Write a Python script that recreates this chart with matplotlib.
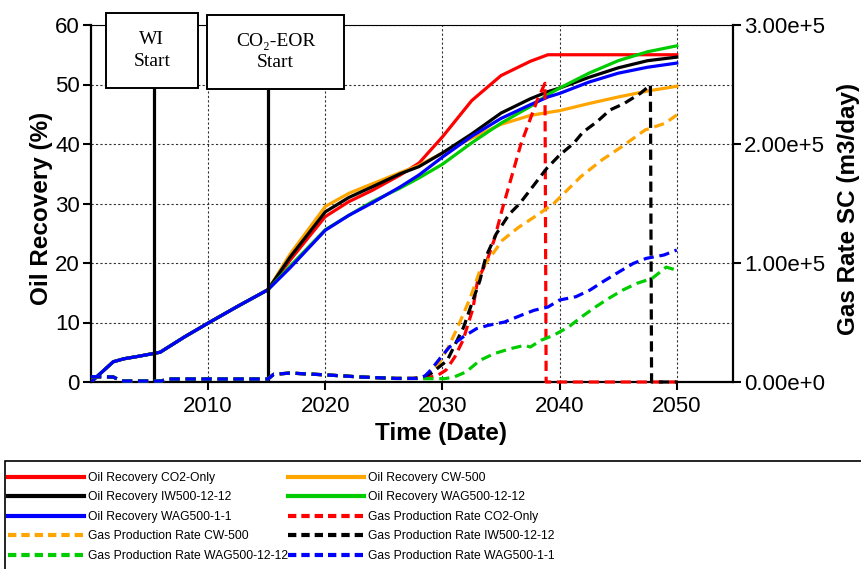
import matplotlib
matplotlib.use("Agg")
import matplotlib.pyplot as plt
import matplotlib.patches as mpatches
from matplotlib.lines import Line2D
from matplotlib.ticker import FuncFormatter

plt.rcParams["font.family"] = ["Liberation Sans", "DejaVu Sans"]

# ─── Data ────────────────────────────────────────────────────────────────────
# history (shared by every scenario, only the blue one shows)
hist_years = [2000, 2001.9, 2002.8, 2004, 2005.9, 2008, 2010, 2012.5, 2015.1]
hist_oil = [0, 3.4, 3.9, 4.3, 5.0, 7.6, 9.9, 12.7, 15.5]

# oil recovery forecasts (%)
fc_years = [2015.1, 2017, 2020, 2022, 2024, 2026.4, 2028, 2030, 2032.5, 2035,
            2037.5, 2039, 2040, 2042.5, 2045, 2047.5, 2050]
oil_co2 = [15.5, 20.5, 27.8, 30.3, 32.2, 34.8, 36.8, 41.2, 47.3, 51.5,
           53.9, 55.0, 55.0, 55.0, 55.0, 55.0, 55.0]
oil_cw = [15.5, 21.5, 29.5, 31.7, 33.3, 35.2, 36.4, 38.5, 41.0, 43.3,
          44.8, 45.3, 45.6, 46.8, 47.9, 48.9, 49.7]
oil_iw = [15.5, 21.0, 28.6, 31.0, 32.8, 35.0, 36.2, 38.5, 41.7, 45.2,
          47.6, 48.8, 49.4, 51.2, 52.8, 54.0, 54.6]
oil_wag12 = [15.5, 19.5, 25.6, 28.0, 30.3, 32.6, 34.3, 36.6, 40.2, 43.5,
             46.3, 48.3, 49.4, 51.9, 54.0, 55.5, 56.5]
oil_wag1 = [15.5, 19.2, 25.5, 28.0, 30.1, 32.8, 34.8, 37.8, 41.3, 44.3,
            46.6, 47.9, 48.5, 50.4, 51.9, 52.9, 53.6]

# gas production rate (m3/day)
gas_hist_years = [2000, 2001.9, 2002.6, 2006, 2006.5, 2015.1]
gas_hist = [4500, 4200, 800, 800, 2500, 2500]
gas_early_years = [2015.6, 2017, 2020, 2023, 2026, 2027.5]
gas_early = [6500, 7500, 6000, 4200, 3000, 3000]

gas_co2_years = [2028.5, 2029.5, 2030.3, 2031.05, 2031.75, 2032.6, 2033.0, 2033.8,
                 2034.4, 2035.1, 2036.7, 2038.1, 2038.75, 2038.85, 2050]
gas_co2 = [3500, 5000, 10000, 21000, 35000, 61600, 85400, 102000,
           119000, 145000, 200000, 237000, 251000, 0, 0]
gas_cw_years = [2028.5, 2029.7, 2030.5, 2031.3, 2032.4, 2033.2, 2034.1, 2035.1,
                2036.5, 2038.2, 2039.5, 2041.8, 2043.6, 2045.3, 2047.3, 2049, 2050]
gas_cw = [4000, 15400, 29400, 46000, 71400, 93800, 105000, 119000,
          130000, 141000, 150000, 172500, 186500, 197700, 211800, 217400, 224400]
gas_iw_years = [2028.3, 2029, 2030.4, 2031.8, 2032.6, 2033.2, 2033.7, 2034.6,
                2035.7, 2036.6, 2038.9, 2040, 2041.2, 2042, 2043.2, 2044.3,
                2045.5, 2046.9, 2047.75, 2047.85, 2050]
gas_iw = [4000, 7000, 18000, 46000, 68600, 85400, 105000, 124600,
          141000, 150000, 179500, 190700, 200600, 210000, 218800, 228600,
          234000, 242600, 249600, 0, 0]
gas_wag12_years = [2028, 2030.2, 2031, 2032, 2033.2, 2034.4, 2035.8, 2037, 2037.5,
                   2038.4, 2039.5, 2040.8, 2041.9, 2043.1, 2044.2, 2045.4,
                   2046.6, 2047.9, 2049.1, 2050]
gas_wag12 = [2800, 2800, 4200, 8400, 18200, 23800, 28000, 30800, 29400,
             35000, 39300, 46500, 54900, 63300, 70300, 77300,
             82900, 87100, 96500, 94000]
gas_wag1_years = [2027.8, 2028.5, 2029.0, 2029.8, 2030.6, 2031.75, 2032.9, 2033.9,
                  2035.3, 2036.7, 2037.8, 2039.0, 2040.0, 2041.4, 2042.6, 2043.7,
                  2045.1, 2046.3, 2047.4, 2048.9, 2050]
gas_wag1 = [3000, 5000, 10000, 20000, 29400, 37800, 44800, 47600,
            50400, 56000, 60200, 63000, 68900, 71700, 77300, 84300,
            92700, 99700, 103900, 106700, 110900]

scenarios = ["CO2-Only", "CW-500", "IW500-12-12", "WAG500-12-12", "WAG500-1-1"]
colors = ["#FF0000", "#FFA500", "#000000", "#00CC00", "#0000FF"]
oil_series = [oil_co2, oil_cw, oil_iw, oil_wag12, oil_wag1]
gas_series = [(gas_co2_years, gas_co2), (gas_cw_years, gas_cw),
              (gas_iw_years, gas_iw), (gas_wag12_years, gas_wag12),
              (gas_wag1_years, gas_wag1)]

events = [("WI\nStart", 2005.4), ("CO\u2082-EOR\nStart", 2015.1)]

# ─── Figure ──────────────────────────────────────────────────────────────────
W, H = 862, 569
fig = plt.figure(figsize=(W / 100, H / 100), dpi=100)
ax = fig.add_axes([91 / W, 1 - 382 / H, 642 / W, 357 / H])
ax2 = ax.twinx()

LW = 2.3
DASH = (0, (3.2, 1.8))

legend_items = []
for name, c, vals in zip(scenarios, colors, oil_series):
    ax.plot(hist_years[:-1] + fc_years, hist_oil[:-1] + vals,
            color=c, lw=LW, zorder=3)
    legend_items.append((Line2D([], [], color=c, lw=3.0),
                         f"Oil Recovery {name}"))

for name, c, (yrs, vals) in zip(scenarios, colors, gas_series):
    x = gas_hist_years + gas_early_years + yrs
    y = gas_hist + gas_early + vals
    ax2.plot(x, y, color=c, lw=LW, ls=DASH, zorder=3, clip_on=False)
    legend_items.append((Line2D([], [], color=c, lw=3.0, ls=(0, (2.0, 1.2))),
                         f"Gas Production Rate {name}"))

# axes limits / ticks
ax.set_xlim(2000, 2054.8)
ax.set_ylim(0, 60)
ax2.set_ylim(0, 3e5)
ax.set_xticks([2010, 2020, 2030, 2040, 2050])
ax.set_yticks(range(0, 61, 10))
ax2.set_yticks([0, 1e5, 2e5, 3e5])
ax2.yaxis.set_major_formatter(
    FuncFormatter(lambda v, p: "0.00e+0" if v == 0 else f"{v / 1e5:.2f}e+5"))

ax.set_axisbelow(True)
ax.grid(True, color="#333333", linestyle=(0, (2, 2)), linewidth=0.8)

ax.tick_params(axis="both", direction="out", length=6, width=1.5,
               labelsize=16, top=False, right=False)
ax.tick_params(axis="y", pad=2)
ax.tick_params(axis="x", pad=4)
ax2.tick_params(axis="y", direction="out", length=6, width=1.5,
                labelsize=16, pad=2)

for s in ("left", "bottom"):
    ax.spines[s].set_linewidth(1.6)
ax.spines["top"].set_linewidth(0.8)
ax.spines["right"].set_visible(False)
for s in ("left", "bottom", "top"):
    ax2.spines[s].set_visible(False)
ax2.spines["right"].set_linewidth(1.6)

ax.set_xlabel("Time (Date)", fontsize=17.5, fontweight="bold")
ax.xaxis.set_label_coords(0.545, -0.113)
ax.set_ylabel("Oil Recovery (%)", fontsize=17.5, fontweight="bold")
ax.yaxis.set_label_coords(-0.059, 0.485)
ax2.set_ylabel("Gas Rate SC (m3/day)", fontsize=17.5, fontweight="bold")
ax2.yaxis.set_label_coords(1.162, 0.485)

# event boxes
boxes = [(2001.3, 2009.1, 49.4, 62.0), (2009.9, 2021.6, 49.2, 61.7)]
for (text, xline), (x0, x1, y0, y1) in zip(events, boxes):
    ax.plot([xline, xline], [0, y0], color="black", lw=LW, zorder=8,
            solid_capstyle="butt", clip_on=False)
    ax.add_patch(mpatches.Rectangle((x0, y0), x1 - x0, y1 - y0,
                                    facecolor="white", edgecolor="black",
                                    lw=1.4, zorder=9, clip_on=False))
    ax.text((x0 + x1) / 2, (y0 + y1) / 2, text, ha="center", va="center",
            fontsize=14, linespacing=1.35, zorder=10, clip_on=False,
            family=["Liberation Serif", "DejaVu Serif"])

# legend (row-major order like the original)
ordered = legend_items[0::2] + legend_items[1::2]
fig.legend([h for h, _ in ordered], [t for _, t in ordered],
           loc="upper left", bbox_to_anchor=(8 / W, 1 - 472 / H),
           ncol=2, frameon=False, borderpad=0, borderaxespad=0,
           handlelength=6.3, handletextpad=0.32, columnspacing=0.0,
           labelspacing=0.62, prop={"size": 8.7})
fig.add_artist(mpatches.Rectangle((5 / W, -0.1), 1.0, (1 - 461 / H) + 0.1,
                                  transform=fig.transFigure, fill=False,
                                  edgecolor="black", lw=1.2))

fig.savefig("out.png", dpi=100)
